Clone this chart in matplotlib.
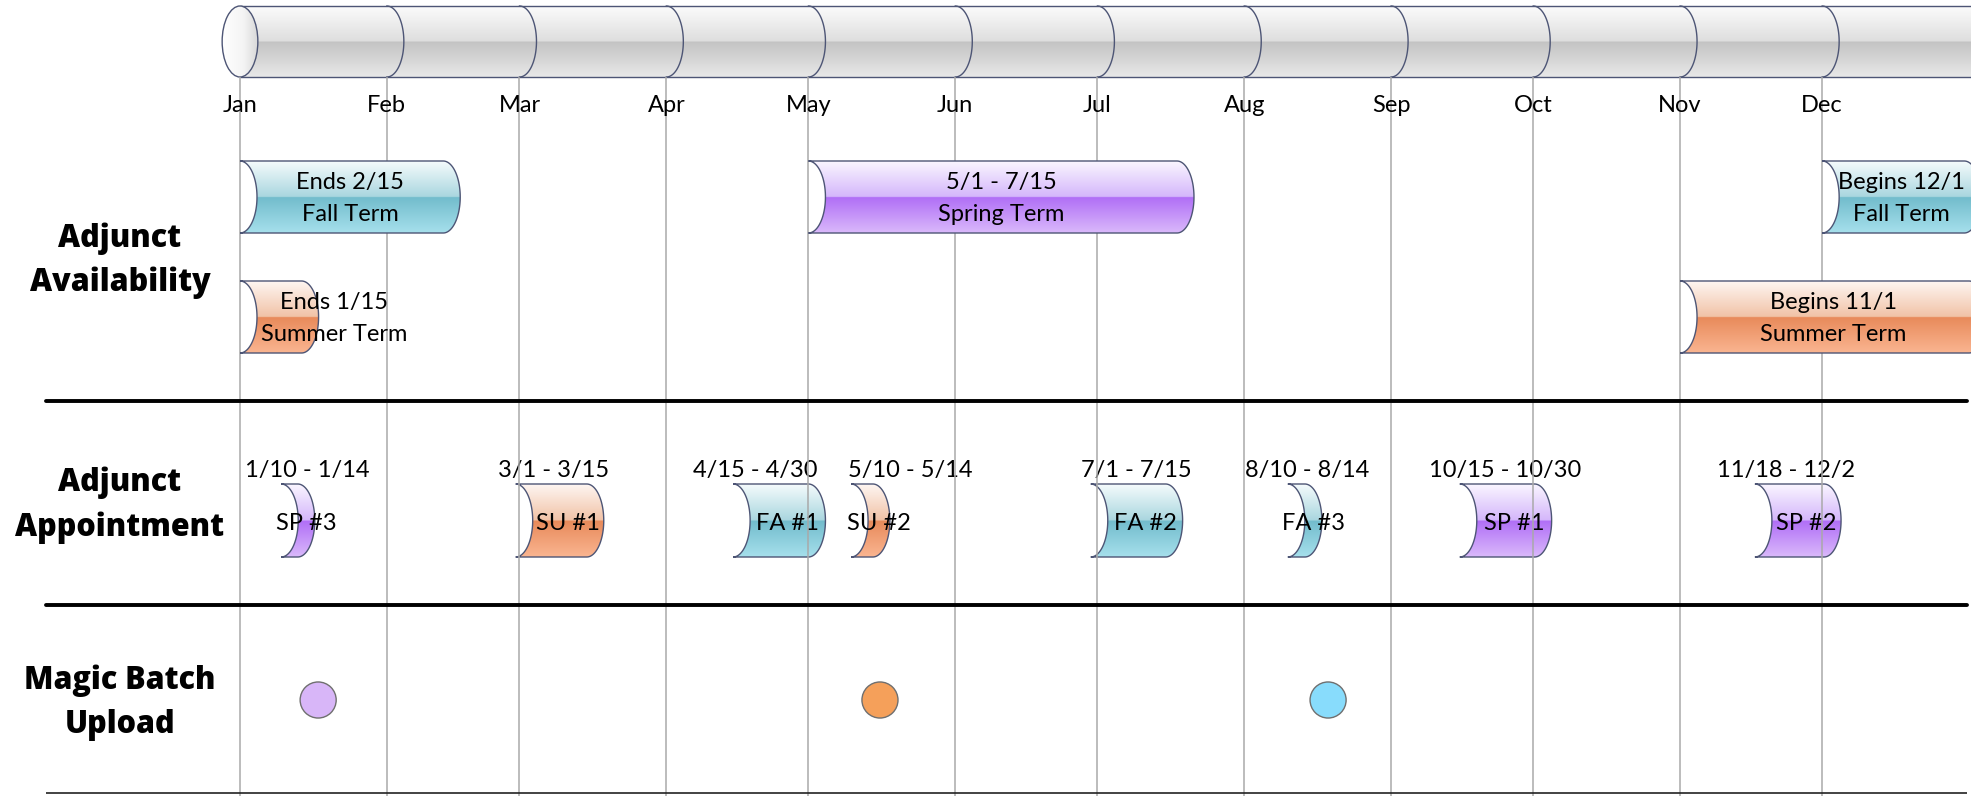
# adjunct timeline : Visio風の年間スケジュール図を matplotlib で再現

import numpy as np
import matplotlib.pyplot as plt
from matplotlib.patches import Polygon, Ellipse
from matplotlib.colors import to_rgb

# ===== データ（x は 1/1 を 0 とした通し日）=====
months = ["Jan", "Feb", "Mar", "Apr", "May", "Jun",
          "Jul", "Aug", "Sep", "Oct", "Nov", "Dec"]
month_start = [0, 31, 59, 90, 120, 151, 181, 212, 243, 273, 304, 334]

row_titles = [["Adjunct", "Availability"],
              ["Adjunct", "Appointment"],
              ["Magic Batch", "Upload"]]

avail_top = ["Ends 2/15", "Ends 1/15", "5/1 - 7/15", "Begins 12/1", "Begins 11/1"]
avail_bottom = ["Fall Term", "Summer Term", "Spring Term", "Fall Term", "Summer Term"]
avail_term = ["fall", "summer", "spring", "fall", "summer"]
avail_lane = [0, 1, 0, 0, 1]
avail_start = [0, 0, 120, 334, 304]
avail_end = [42.9, 13.0, 197.8, 364, 365]

appt_dates = ["1/10 - 1/14", "3/1 - 3/15", "4/15 - 4/30", "5/10 - 5/14",
              "7/1 - 7/15", "8/10 - 8/14", "10/15 - 10/30", "11/18 - 12/2"]
appt_names = ["SP #3", "SU #1", "FA #1", "SU #2", "FA #2", "FA #3", "SP #1", "SP #2"]
appt_term = ["spring", "summer", "fall", "summer", "fall", "fall", "spring", "spring"]
appt_start = [8.7, 58.2, 104.1, 129.0, 179.6, 221.2, 257.5, 319.8]
appt_end = [12.2, 73.2, 120.0, 133.6, 195.4, 224.8, 273.3, 334.4]

upload_day = [16.5, 135.1, 229.7]
upload_term = ["spring", "summer", "fall"]

# ===== 見た目の設定（ピクセル基準）=====
W, H = 1971, 796
JAN_X = 240
PX_PER_DAY = 4.737
CAP = 17 / PX_PER_DAY          # 円柱の端の膨らみ（日）
EDGE = "#4d5575"
FONT = ["Lato", "DejaVu Sans"]
BOLD = ["Open Sans", "DejaVu Sans"]

gloss = {
    "fall":   [(0, "#f5fbfc"), (0.499, "#a9d6df"), (0.501, "#72bccc"), (1, "#a6e0ec")],
    "spring": [(0, "#faf6ff"), (0.499, "#d4b6fb"), (0.501, "#b06ef6"), (1, "#dab9fb")],
    "summer": [(0, "#fef6f2"), (0.499, "#f1c2a6"), (0.501, "#e88a5a"), (1, "#fab591")],
    "gray":   [(0, "#fbfbfb"), (0.499, "#dedede"), (0.501, "#c3c3c3"), (1, "#e8e8e8")],
}
dot_color = {"spring": "#d8b6f8", "summer": "#f5a05a", "fall": "#88dcfc"}

lane_y = [(161, 233), (281, 353)]
appt_y = (484, 557)
upload_y = 700
sep_y = [401, 605]
avail_text_nudge = [0, 55, 0, 0, 0]                 # px
date_text_nudge = [9, -6, -24, 40, 0, 2, -1, -12]   # px


def gradient(stops, n=300, horizontal=False):
    pos = [p for p, _ in stops]
    cols = np.array([to_rgb(c) for _, c in stops])
    t = np.linspace(0, 1, n)
    img = np.stack([np.interp(t, pos, cols[:, k]) for k in range(3)], axis=-1)
    return img[None, :, :] if horizontal else img[:, None, :]


def tube(x0, x1, y0, y1, stops, z):
    th = np.linspace(-np.pi / 2, np.pi / 2, 80)
    ym, h = (y0 + y1) / 2, (y1 - y0) / 2
    left = np.c_[x0 + CAP * np.cos(th), ym + h * np.sin(th)]
    right = np.c_[x1 + CAP * np.cos(th[::-1]), ym + h * np.sin(th[::-1])]
    poly = Polygon(np.vstack([left, right]), closed=True, facecolor="none",
                   edgecolor=EDGE, lw=1.0, zorder=z + 0.1)
    ax.add_patch(poly)
    im = ax.imshow(gradient(stops), extent=(x0, x1 + CAP, y1, y0), origin="upper",
                   aspect="auto", interpolation="bilinear", zorder=z)
    im.set_clip_path(poly)


fig = plt.figure(figsize=(W / 100, H / 100), dpi=100)
ax = fig.add_axes([0, 0, 1, 1])
ax.axis("off")
x_min = -JAN_X / PX_PER_DAY
x_max = (W - JAN_X) / PX_PER_DAY
px = 1 / PX_PER_DAY

# ===== 上部の円柱（月の目盛り）=====
cy0, cy1 = 6, 77
body = Polygon([(0, cy0), (x_max + 10, cy0), (x_max + 10, cy1), (0, cy1)],
               closed=True, facecolor="none", edgecolor=EDGE, lw=1.0, zorder=2.1)
ax.add_patch(body)
im = ax.imshow(gradient(gloss["gray"]), extent=(0, x_max + 10, cy1, cy0),
               origin="upper", aspect="auto", interpolation="bilinear", zorder=2)
im.set_clip_path(body)
th = np.linspace(-np.pi / 2, np.pi / 2, 80)
for d in month_start[1:]:
    ax.plot(d + CAP * np.cos(th), (cy0 + cy1) / 2 + (cy1 - cy0) / 2 * np.sin(th),
            color=EDGE, lw=1.0, zorder=2.2)
face = Ellipse((0, (cy0 + cy1) / 2), 2 * CAP * 1.05, cy1 - cy0,
               facecolor="none", edgecolor=EDGE, lw=1.0, zorder=2.3)
ax.add_patch(face)
im = ax.imshow(gradient([(0, "#ffffff"), (0.6, "#f4f4f4"), (1, "#d8d8d8")], horizontal=True),
               extent=(-CAP * 1.05, CAP * 1.05, cy1, cy0), origin="upper",
               aspect="auto", interpolation="bilinear", zorder=2.25)
im.set_clip_path(face)

for m, d in zip(months, month_start):
    ax.text(d, 112, m, ha="center", va="baseline", fontsize=17, family=FONT, zorder=6)

# ===== 罫線 =====
ax.vlines(month_start, cy1, H, color="#a9a9a9", lw=1.1, zorder=3)
ax.hlines(sep_y, (46 - JAN_X) * px, (1967 - JAN_X) * px, color="black", lw=2.8,
          capstyle="round", zorder=3.5)
ax.hlines(793, (46 - JAN_X) * px, (1967 - JAN_X) * px, color="#222222", lw=1.2, zorder=3.5)

# ===== 行見出し =====
title_base = [(247, 291), (491, 536), (689, 733)]
for lines, bases in zip(row_titles, title_base):
    for s, b in zip(lines, bases):
        ax.text((120 - JAN_X) * px, b, s, ha="center", va="baseline", fontsize=22,
                fontweight=800, family=BOLD, zorder=6)

# ===== Adjunct Availability =====
for i in range(len(avail_top)):
    y0, y1 = lane_y[avail_lane[i]]
    x0, x1 = avail_start[i], avail_end[i]
    tube(x0, x1, y0, y1, gloss[avail_term[i]], z=4)
    cx = (x0 + x1 + CAP) / 2 + avail_text_nudge[i] * px
    ym = (y0 + y1) / 2
    ax.text(cx, ym - 8, avail_top[i], ha="center", va="baseline", fontsize=17,
            family=FONT, zorder=5)
    ax.text(cx, ym + 24, avail_bottom[i], ha="center", va="baseline", fontsize=17,
            family=FONT, zorder=5)

# ===== Adjunct Appointment =====
ay0, ay1 = appt_y
for i in range(len(appt_names)):
    x0, x1 = appt_start[i], appt_end[i]
    tube(x0, x1, ay0, ay1, gloss[appt_term[i]], z=2)
    ax.text((x0 + x1 + CAP) / 2 + date_text_nudge[i] * px, 477, appt_dates[i],
            ha="center", va="baseline", fontsize=17, family=FONT, zorder=2.5)
    ax.text((x0 + x1) / 2 + CAP, (ay0 + ay1) / 2 + 9, appt_names[i],
            ha="center", va="baseline", fontsize=17, family=FONT, zorder=2.5)

# ===== Magic Batch Upload =====
ax.scatter(upload_day, [upload_y] * len(upload_day), s=36 ** 2 * 0.52,
           c=[dot_color[t] for t in upload_term], edgecolors="#6f6f6f",
           linewidths=1.0, zorder=4)

ax.set_xlim(x_min, x_max)
ax.set_ylim(H, 0)
fig.savefig("out.png", dpi=100)
